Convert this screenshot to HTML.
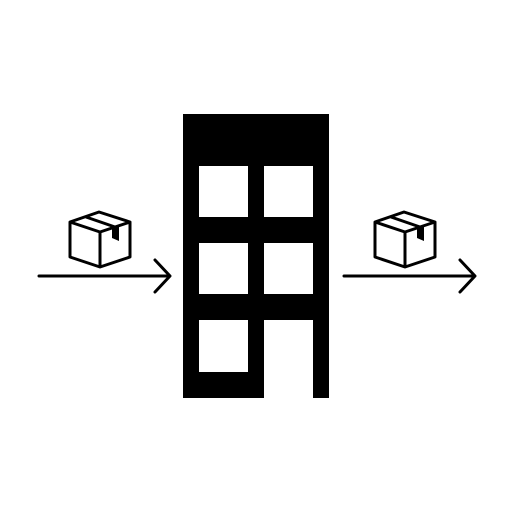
<!DOCTYPE html>
<html><head><meta charset="utf-8"><style>html,body{margin:0;padding:0;background:#fff}</style></head>
<body>
<svg width="512" height="512" viewBox="0 0 512 512">
<defs>
<g id="box">
<g fill="none" stroke="#000" stroke-width="3" stroke-linejoin="round">
<path d="M70 222 L99 212 L130 222 L100 232 Z"/>
<path d="M70 222 L70 257 L100 267 L130 257 L130 222"/>
<path d="M100 232 L100 267"/>
<path d="M86 217 L115 227"/>
</g>
<path d="M112 228 L119 226 L119 241 L112 238 Z" fill="#000"/>
</g>
<g id="arrow" fill="none" stroke="#000" stroke-width="3" stroke-linecap="round" stroke-linejoin="round">
<path d="M39 276 L169 276"/>
<path d="M155 260 L170 276 L155 292"/>
</g>
</defs>
<g><use href="#box"/></g>
<g><use href="#arrow"/></g>
<g>
<path fill="#000" fill-rule="evenodd" d="M183 114 H329 V398 H313 V320 H264 V398 H183 Z
M199 166 H248 V217 H199 Z M264 166 H313 V217 H264 Z
M199 243 H248 V294 H199 Z M264 243 H313 V294 H264 Z
M199 320 H248 V372 H199 Z"/>
</g>
<g><use href="#box" transform="translate(305,0)"/></g>
<g><use href="#arrow" transform="translate(305,0)"/></g>
</svg>
</body></html>
